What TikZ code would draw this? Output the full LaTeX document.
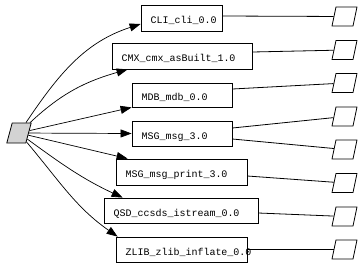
\documentclass[tikz,border=0pt]{standalone}
\usepackage{fontspec}
\setmonofont{Liberation Mono}
\usetikzlibrary{arrows.meta}
\definecolor{srcgray}{HTML}{D3D3D3}
\newcommand\bxt[2]{\makebox[#1pt][l]{\hspace{9.5pt}#2}}
\begin{document}
\begin{tikzpicture}[x=1pt,y=-1pt,
  box/.style={draw,line width=0.8pt,rectangle,inner sep=0pt,
    text height=11pt,text depth=0pt,font=\ttfamily\fontsize{10}{12}\selectfont},
  para/.style={draw,line width=0.8pt,rectangle,inner sep=0pt,
    minimum width=21pt,minimum height=19pt,xslant=0.21,transform shape},
  edge/.style={-{Triangle[length=11pt,width=8pt]},line width=0.7pt},
  link/.style={line width=0.8pt}]
\useasboundingbox[fill=white] (0,0) rectangle (362,266);
\begin{scope}[shift={(19,133)}]
  \node[para,fill=srcgray,minimum width=19pt,minimum height=20pt,xslant=0.06] (src) at (0,0) {};
\end{scope}
\node[box,minimum height=26pt] (cli) at (181.5,18) {\bxt{81}{CLI\_cli\_0.0}};
\node[box,minimum height=26pt] (cmx) at (182,56) {\bxt{140}{CMX\_cmx\_asBuilt\_1.0}};
\node[box,minimum height=24pt] (mdb) at (182,95) {\bxt{100}{MDB\_mdb\_0.0}};
\node[box,minimum height=25pt] (msg) at (182,133.5) {\bxt{100}{MSG\_msg\_3.0}};
\node[box,minimum height=26pt] (prt) at (181.5,172) {\bxt{131}{MSG\_msg\_print\_3.0}};
\node[box,minimum height=25pt] (qsd) at (181,210.5) {\bxt{154}{QSD\_ccsds\_istream\_0.0}};
\node[box,minimum height=25pt] (zlib) at (181.5,249.5) {\bxt{131}{ZLIB\_zlib\_inflate\_0.0}};
\foreach \i/\y in {1/16.5,2/50,3/83,4/116.5,5/149.5,6/183,7/216.5,8/249.5}{
  \begin{scope}[shift={(344.5,\y)}]
    \node[para] (p\i) at (0,0) {};
  \end{scope}}
\draw[link] ([yshift=2pt]cli.east) -- (p1);
\draw[link] ([yshift=4pt]cmx.east) -- (p2);
\draw[link] ([yshift=6pt]mdb.east) -- (p3);
\draw[link] ([yshift=5.5pt]msg.east) -- (p4);
\draw[link] ([yshift=-5.5pt]msg.east) -- (p5);
\draw[link] ([yshift=-4pt]prt.east) -- (p6);
\draw[link] ([yshift=-2.5pt]qsd.east) -- (p7);
\draw[link] (zlib.east) -- (p8);
\draw[edge] (src) to[out=58,in=198] ([yshift=-6pt]cli.west);
\draw[edge] (src) to[out=45,in=196] ([xshift=16pt]cmx.south west);
\draw[edge] (src) -- (mdb.south west);
\draw[edge] (src) -- (msg.west);
\draw[edge] (src) -- ([xshift=12pt]prt.north west);
\draw[edge] (src) to[out=-35,in=155] ([xshift=19pt]qsd.north west);
\draw[edge] (src) to[out=-48,in=145] ([xshift=2pt]zlib.north west);
\end{tikzpicture}
\end{document}
